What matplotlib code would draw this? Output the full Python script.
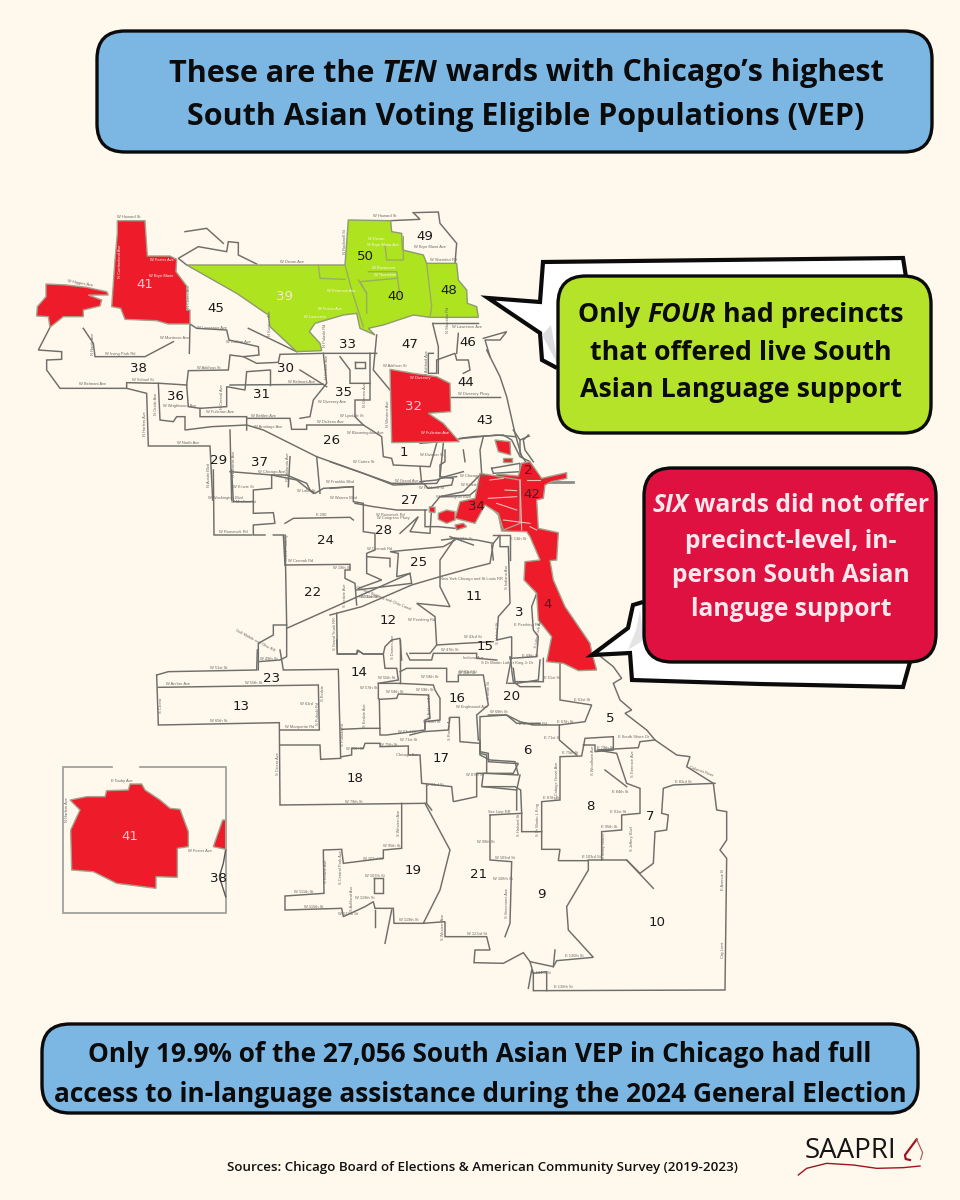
import matplotlib
matplotlib.use('Agg')
import matplotlib.pyplot as plt
from matplotlib.patches import FancyBboxPatch, Polygon

BG = '#FFF8EC'
LINE = '#6E6E6A'
FONT = 'Open Sans'

# crop origins the outlines were read from (x0, y0), crop pixels are 3x
C1 = (30, 200)
C2 = (330, 350)
C3 = (50, 650)
C4 = (400, 650)
C6 = (480, 250)
C7 = (190, 470)
C8 = (320, 640)
C9 = (420, 430)

# ---- coloured wards
ward41 = [(262,62),(345,62),(352,168),(420,168),(440,178),(438,215),(470,258),(470,330),(480,330),(480,372),
          (415,372),(380,362),(285,358),(272,325),(245,320),(255,180),(262,100)]
ward41_west = [(48,252),(110,255),(170,262),(230,275),(235,285),(175,285),(215,300),(210,318),(160,330),(160,350),
               (100,350),(60,382),(55,350),(20,348),(22,320),(48,290)]
ward_green = [(470,195),(945,195),(955,60),(1082,62),(1085,95),(1115,100),(1118,150),(1180,165),(1190,190),(1280,190),
              (1285,240),(1310,270),(1312,310),(1340,320),(1345,352),(1200,352),(1150,345),(1060,375),(1015,385),
              (1035,405),(990,385),(980,340),(940,345),(855,370),(838,395),(870,430),(875,452),(800,455),(720,380),
              (715,345),(620,280)]
green_inner = [
    [(865,195),(870,235),(945,238)],
    [(945,195),(965,270),(1000,380)],
    [(985,240),(1010,280),(1010,340)],
    [(1015,215),(1100,215),(1110,290)],
    [(1065,135),(1070,180),(1120,180),(1120,110)],
    [(1190,190),(1205,320),(1200,352)],
    [(1010,280),(990,245),(1100,235)],
]
ward32 = [(180,58),(250,70),(320,80),(360,100),(362,185),(295,190),(340,220),(388,275),(185,278)]
downtown = [(500,372),(565,378),(575,340),(600,335),(635,385),(710,368),(710,385),(665,395),(645,405),
            (640,445),(620,450),(625,535),(685,548),(680,630),(660,632),(670,690),(705,770),(780,880),(785,905),
            (800,960),(745,962),(700,940),(650,935),(665,860),(625,810),(620,730),(582,690),(585,635),(630,630),
            (600,560),(590,545),(515,543),(505,495),(480,470)]
downtown_c9 = [
    [(180,130),(300,150),(300,280),(250,300),(235,250),(195,225),(165,280),(105,265),(120,215),(165,205)],
    [(55,250),(80,240),(105,245),(105,270),(80,280),(55,268)],
    [(28,230),(45,232),(45,248),(28,246)],
    [(105,285),(130,280),(140,290),(110,300)],
    [(225,30),(270,35),(272,75),(235,65)],
    [(250,85),(275,85),(275,97),(250,97)],
]
downtown_roads = [
    [(300,150),(305,300)], [(205,205),(290,200)], [(230,220),(290,240)], [(250,270),(330,280)],
    [(330,290),(350,300)], [(320,150),(360,150)], [(210,150),(250,145)], [(255,180),(290,182)],
]
inset41 = [(60,450),(110,440),(165,440),(170,422),(235,420),(240,402),(275,402),(285,420),(330,450),(360,475),
           (390,478),(415,545),(415,590),(382,595),(382,682),(318,680),(318,715),(200,700),(130,665),(65,660),
           (62,540),(90,480)]
inset_bit = [(518,510),(527,510),(527,598),(490,590)]
inset_frame = [(185,350),(40,350),(40,790),(527,790),(527,350),(270,350)]
inset_line = [(527,600),(520,640),(508,680),(527,740)]

# ---- ward boundaries, one list per crop
lines_c1 = [
    [(1150,38),(1225,36),(1230,70),(1280,130),(1275,190)],
    [(1150,38),(1170,58),(1082,62)],
    [(470,195),(445,175),(505,140),(590,155),(595,125),(625,128),(625,165),(680,192)],
    [(465,95),(530,85),(580,130)],
    [(60,382),(25,450),(95,455),(95,478),(50,480),(50,510),(90,565),(290,565),(290,548),(390,550),(470,555),
     (475,512),(595,510),(600,465),(640,470),(680,490),(745,487),(750,463),(880,460),(1040,460)],
    [(160,385),(190,430),(195,470),(345,470),(430,425)],
    [(480,372),(478,460)],
    [(480,372),(500,385),(590,390),(597,420),(685,440),(687,465),(640,470)],
    [(655,385),(800,455)],
    [(290,565),(350,580),(355,738),(540,738),(548,900)],
    [(385,550),(390,660),(430,665),(440,650),(465,650),(465,690),(545,680),(650,675),(700,690),(860,770),(1000,820),
     (1090,855),(1220,850),(1230,835),(1280,830)],
    [(600,690),(605,900)],
    [(470,555),(475,620),(510,625),(510,650),(650,650),(650,690)],
    [(650,655),(780,655),(785,688),(830,688),(830,675),(1000,675),(1055,710),(1060,770),(1085,775),(1090,795),
     (1200,800),(1220,730)],
    [(1020,460),(1020,600),(975,600),(975,650),(1000,675)],
    [(880,460),(890,550),(850,600),(840,650),(810,655)],
    [(890,560),(810,510)],
    [(600,555),(880,553)],
    [(720,510),(650,515),(645,570),(590,560),(590,620),(510,625)],
    [(720,510),(720,555)],
    [(930,470),(960,510),(960,550),(1020,550)],
    [(975,485),(1005,485),(1005,505),(975,505),(975,485)],
    [(1040,405),(1030,510),(1080,570)],
    [(1208,370),(1225,440),(1225,520)],
    [(1210,460),(1195,460),(1195,520),(1220,520),(1220,480),(1275,460),(1280,480),(1315,480),(1320,510),(1300,520)],
    [(1285,400),(1280,460)],
    [(1262,592),(1410,592)],
    [(1345,370),(1208,370)],
    [(780,770),(775,860)],
    [(860,770),(870,880)],
    [(600,815),(725,825),(800,840),(850,880)],
]
lines_c2 = [
    [(390,265),(430,260),(520,255),(545,270),(570,320),(600,335)],
    [(340,280),(330,380),(370,385),(365,405),(295,415),(280,400),(185,400),(0,335)],
    [(270,350),(275,400)],
    [(0,415),(70,410)],
    [(75,460),(130,470),(200,480),(290,480)],
    [(210,550),(265,500),(240,545),(300,550),(305,470),(330,440),(420,435),(455,405)],
    [(375,570),(340,590),(180,605),(205,610),(200,680),(240,670),(245,700),(80,720)],
    [(335,570),(375,565),(440,570),(490,580),(510,555),(510,590),(535,590),(540,760),(505,800),(500,870),(545,860),
     (545,920),(530,1000)],
    [(375,565),(330,630),(330,710),(360,770),(260,760),(315,800),(320,885)],
    [(490,580),(480,640),(420,655),(330,680),(245,705),(95,770),(0,795)],
    [(240,910),(300,910),(320,885),(400,880),(490,875)],
    [(620,730),(605,770),(610,840),(625,860),(620,920),(540,925)],
    [(630,930),(625,990),(560,1000),(535,1000)],
]
lines_c3 = [
    [(320,75),(355,65),(620,60),(622,0)],
    [(320,75),(325,225),(688,218),(690,465),(1125,460)],
    [(325,112),(805,105),(808,240),(690,240)],
    [(690,285),(810,285),(812,328),(872,325),(865,58),(700,60),(690,0)],
    [(1055,460),(1055,595),(1000,600),(1000,625),(880,640),(875,598),(820,600),(822,730),(705,738),(705,780),(875,775),
     (880,800),(945,770),(970,755),(975,775),(1030,775),(1032,820),(1120,820),(1170,720),(1200,600),(1125,460)],
    [(972,685),(1000,685),(1000,730),(972,730),(972,685)],
    [(975,780),(975,830)],
    [(1025,780),(1005,880)],
]
lines_c4 = [
    [(70,820),(135,815),(135,860),(260,860),(270,900),(225,900),(222,938),(310,940),(370,908),(390,935),(460,950),
     (470,932),(580,922),(505,840),(500,770),(565,660),(565,632),(475,632),(480,598),(425,598),(425,455),(480,450),
     (480,320),(545,318),(555,265),(640,260),(640,300),(585,305),(585,285),(550,285)],
    [(270,495),(365,490),(365,545),(425,545)],
    [(270,495),(270,630),(335,635),(330,820),(315,860)],
    [(365,490),(362,420),(345,410),(245,410),(250,370),(340,370),(355,340),(340,340),(265,335),(265,310),(240,305),
     (240,200),(320,195),(360,215),(400,225),(478,225),(555,215),(575,165),(480,150),(480,40)],
    [(478,225),(478,270),(530,315)],
    [(340,55),(345,95),(430,95),(430,25)],
    [(330,20),(335,55)],
    [(945,400),(820,405),(790,415),(785,490),(805,495),(800,540),(765,545),(760,640),(720,670),(680,630),(565,630)],
    [(765,270),(720,275),(715,293),(590,300),(650,310),(680,400),(720,415),(720,490),(665,495),(665,540),(605,545),(605,630)],
    [(615,360),(680,410)],
    [(680,630),(760,715)],
    [(460,950),(465,900)],
    [(400,970),(440,965),(440,1022)],
    [(385,1015),(395,960)],
]
lines_c7 = [
    [(70,0),(72,195),(185,195)],
    [(125,0),(130,95),(190,95),(190,130),(250,128),(255,160),(190,165),(190,195),(225,195)],
    [(250,195),(280,195),(285,285)],
    [(285,160),(310,145),(480,142),(490,150)],
    [(285,195),(290,465),(250,465),(250,495),(205,520),(205,600)],
    [(290,465),(290,560),(270,570),(205,575)],
    [(290,475),(660,310)],
    [(285,285),(480,283),(480,300),(465,300),(465,325),(495,340),(500,405)],
    [(440,430),(442,552),(500,552),(505,542),(520,552),(580,552),(585,530),(605,510),(630,505),(635,570)],
    [(245,15),(245,55),(190,60),(190,95)],
    [(245,15),(290,15),(350,40),(360,60),(375,70),(400,55),(490,50),(490,95),(520,100),(520,185),(555,190),(555,240),
     (530,250),(530,310),(575,330),(505,355)],
    [(530,260),(600,265),(600,290)],
]
lines_c8 = [
    [(50,0),(52,42),(110,42),(112,30),(130,42),(190,42),(195,85),(230,85),(235,120),(175,130),(175,175)],
    [(240,0),(240,130)],
    [(175,130),(235,130),(340,135),(345,150),(360,175),(360,240),(315,245),(315,265)],
    [(178,178),(230,175),(235,162),(325,165),(330,235),(315,240),(315,270),(200,285),(180,285),(178,178)],
    [(65,268),(130,265),(180,265)],
    [(65,350),(95,345),(95,325),(130,325),(135,310),(180,310),(180,320),(265,318),(265,345),(300,345),(305,430),(395,440),
     (400,485),(470,470),(470,400),(500,400),(500,345),(480,340),(480,310),(420,305),(418,232),(390,232),(385,270),
     (310,275),(270,285)],
    [(240,95),(260,85),(380,85),(380,125),(415,125),(415,105),(490,105),(505,195),(470,225),(475,300)],
    [(505,225),(560,225),(590,250),(660,250)],
    [(480,300),(480,345),(510,360),(585,365),(595,405),(500,400)],
    [(490,440),(590,450),(590,510)],
    [(590,450),(600,405)],
    [(320,435),(320,490),(335,510)],
    [(575,90),(580,125),(600,140),(660,140)],
    [(260,40),(270,60),(335,60),(340,40),(470,40),(470,55),(530,60)],
]
lines_c9 = [
    [(130,60),(135,95)],
    [(190,20),(180,60),(185,130)],
    [(0,40),(60,35),(130,25),(230,15),(285,20)],
    [(280,0),(300,30),(300,70),(320,100)],
    [(325,15),(310,30),(315,60),(340,95)],
    [(215,115),(300,100),(300,125),(220,130),(215,115)],
    [(60,200),(130,185),(185,130)],
    [(0,155),(50,150),(75,140),(130,125)],
    [(60,140),(60,105),(75,95),(75,60)],
    [(15,240),(15,290),(55,290),(105,295)],
    [(90,320),(160,345)],
    [(220,315),(270,315),(270,390)],
    [(215,345),(220,390)],
]
pier_c9 = [(380,155),(460,155)]
coast_c4 = [(590,10),(640,50),(665,85),(640,100),(660,150),(695,180),(675,190),(740,240),(765,270),(830,315),(870,320),
            (860,350),(940,400),(950,480),(980,485),(980,570),(960,600),(980,625),(975,1020),(400,1022),(400,970),(390,935)]
coast_c6 = [(10,265),(80,245),(60,270),(15,270),(30,320)]
coast_c2 = [(470,0),(510,80),(530,140),(555,250),(575,320)]
harbor_c2 = [(570,270),(598,258)]

# ---- ward numbers (x, y on the 960x1200 picture)
ward_nums = ['49','50','40','48','45','33','47','46','38','30','44','36','31','35','43','26','1','29','37','27','28',
             '24','25','22','11','12','3','15','14','23','13','16','20','5','6','17','18','8','7','19','21','9','10','38']
ward_x = [425,365,396,449,216,348,410,468,138,286,466,176,262,344,485,332,404,219,259,410,383,
          325,419,313,474,388,519,485,359,272,241,457,512,610,527,441,355,590,650,413,479,541,657,218]
ward_y = [236,257,296,291,308,344,345,342,368,369,382,396,395,392,420,441,453,461,462,501,530,
          541,563,592,597,620,612,646,673,678,706,699,697,718,750,758,778,807,816,870,875,895,923,878]
red_nums = ['39','41','32','34','42','2','4','41']
red_x = [285,145,414,476,532,528,548,130]
red_y = [297,285,407,507,494,470,605,837]

# ---- street labels: text, crop x, crop y, rotation
streets_c1 = [('W Howard St',295,52,0),('W Howard St',1065,48,0),('W Devon Ave',785,185,0),('W Higgins Ave',150,250,-10),
    ('W Lawrence Ave',545,385,0),('W Montrose Ave',435,413,0),('W Irving Park Rd',270,462,0),('W Addison St',535,503,0),
    ('W Belmont Ave',188,553,0),('W School St',340,540,0),('W Belmont Ave',815,545,0),('W Fullerton Ave',570,637,0),
    ('W Diversey Ave',905,607,0),('W Dickens Ave',900,667,0),('W Armitage Ave',715,682,0),('W Belden Ave',700,648,0),
    ('W Chicago Ave',725,815,0),('W Grand Ave',1130,842,0),('W Division St',1205,765,0),('W Addison St',1095,497,0),
    ('W Diversey Pkwy',1330,583,0),('W Lawrence Ave',1310,380,0),('W Sheridan Rd',1240,180,0),('W Bryn Mawr Ave',1200,140,0),
    ('W Cullom Ave',625,425,0),('W Lyndale St',965,648,0),('W Bloomingdale Ave',1005,700,0),('W Cortez St',1000,785,0),
    ('W Wrightwood Ave',450,617,0),('W North Ave',475,730,0),('W Kinzie St',640,860,0),('W Hubbard St',1205,865,0),
    ('N Pulaski Rd',885,405,90),('N Harlem Ave',345,670,90),('N Austin Blvd',537,825,90),('N Cicero Ave',478,290,90),
    ('N Laramie Ave',612,790,90),('N Nagle Ave',190,430,90),('N Oriole Ave',378,610,90),('N Kostner Ave',720,370,90),
    ('N Western Ave',1075,640,90),('N Ashland Ave',1190,490,90),('N Damen Ave',1005,585,90),('N Sheridan Rd',1255,360,90),
    ('N Central Ave',575,590,90),('N Kedzie Ave',890,500,90),('N California Ave',775,800,90),('N Rockwell St',945,125,90)]
streets_c2 = [('W Chicago Ave',432,377,0),('W Kinzie St',425,405,0),('W Washington Blvd',370,440,0),('W Roosevelt Rd',180,495,0),
    ('W Congress Pkwy',190,505,0),('W 19th St',400,568,0),('New York Chicago and St Louis RR',425,688,0),('W Pershing Rd',275,810,0),
    ('W 47th St',360,900,0),('W 43rd St',430,862,0),('Indiana Ave',430,925,0),('S Dr Martin Luther King Jr Dr',530,940,0),
    ('W 31st St',120,740,0),('E 13th St',565,566,0),('E Pershing Rd',590,825,0),
    ('W Cermak Rd',150,598,0),('E 49th St',600,918,0),('W 55th St',410,968,0),('W 59th St',300,980,0),
    ('S Lake Park Ave',625,850,80),('S Indiana Ave',530,680,90),('S Kedzie Ave',45,735,90),
    ('S Halsted St',505,850,90),('S Damen Ave',190,890,90)]
streets_c3 = [('W Archer Ave',385,102,0),('W 55th St',612,98,0),('W 65th St',505,212,0),
    ('W Marquette Rd',748,232,0),('W 63rd',770,162,0),('W 75th St',915,297,0),('W 79th St',912,455,0),('Chicago Ave',1070,315,0),
    ('W 95th St',1025,587,0),('W 103rd St',970,628,0),('W 107th St',975,677,0),('W 111th St',762,725,0),('W 115th St',790,770,0),
    ('W 119th St',945,745,0),('W 127th St',895,792,0),('W 119th St',1075,810,0),('S Cicero Ave',683,342,90),
    ('S Central Park Ave',872,650,90),('S Pulaski Rd',878,255,90),('S Western Ave',1048,520,90),('S Cicero',332,165,90),
    ('S Kedzie Ave',828,665,90),('S Kedzie',818,130,90),('S Pulaski Rd',805,190,90),('S Ashland Ave',905,745,90),
    ('E Touhy Ave',215,392,0),('W Foster Ave',450,604,0),('N Harlem Ave',50,480,90)]
streets_c4 = [('W 63rd St',205,67,0),('W Englewood Ave',215,172,0),('W 69th St',295,187,0),('E Marquette Rd',400,222,0),
    ('E 67th St',495,217,0),('E 71st St',455,265,0),('E 75th St',510,310,0),('E 83rd St',850,395,0),('E South Shore Dr',700,260,0),
    ('E 79th St',615,295,0),('E 87th St',455,445,0),('E 103rd St',575,622,0),('E 95th St',628,532,0),('E 91st St',655,487,0),
    ('E 84th St',660,427,0),('E 130th St',522,918,0),('E 134th St',425,968,0),('E 138th St',490,1012,0),
    ('W 87th St',225,375,0),('W 99th St',258,575,0),('W 103rd St',315,625,0),('W 108th St',310,688,0),('W 123rd St',230,852,0),
    ('Sec Line RR',298,487,0),('E 61st St',545,150,0),('E 51st St',455,85,0),('E Avenue B',968,690,90),('City Limit',968,900,90),
    ('S Cottage Grove Ave',470,390,90),('S Stony Island',612,590,90),('S Halsted St',358,525,90),('S Dr Martin L King',415,510,90),
    ('S Vincennes Ave',320,760,90),('S Torrence Ave',700,340,90),('S Jeffery Blvd',695,565,90),('S Woodlawn Ave',578,330,90),
    ('S Western Ave',128,830,90),('S State St',268,120,90),('Calumet River',905,365,-20)]
streets_c7 = [('W Lake St',350,62,0),('W Franklin Blvd',450,35,0),('W Warren Blvd',460,85,0),
    ('W Madison St',160,97,0),('W Washington Blvd',105,85,0),('E 290',395,135,0),
    ('W Roosevelt Rd',130,187,0),('W Cermak Rd',332,274,0),('W 19th St',455,295,0),('W 33rd St',535,380,0),
    ('W 51st St',85,594,0),('W 49th St',235,567,0),('S Grand Trunk RR',435,490,90),('S Belt Railway',292,230,90),
    ('Gulf Mobile and Ohio RR',195,512,-28),('Chicago Sanitary and Ohio Canal',580,385,-22)]
streets_c8 = [('W 57th St',145,145,0),('W 59th St',225,155,0),('W 59th St',315,150,0),('W 71st St',265,300,0),('W 63rd St',260,277,0),
    ('W 65th St',335,245,0),('W 83rd St',345,435,0),('W 75th St',205,315,0),('W 55th St',200,113,0),('S Kedzie Ave',135,225,90),
    ('S Racine Ave',390,265,90),('S Ashland Ave',330,195,90)]
streets_red = [('W Foster Ave',395,180,0),('W Bryn Mawr',395,227,0),('N Cumberland Ave',270,185,90),('W Diversey',1170,535,0),
    ('W Fullerton Ave',1215,700,0),('W Peterson Ave',935,272,0),('W Foster Ave',900,328,0),('W Lawrence',855,352,0),
    ('W Bryn Mawr Ave',1060,135,0),('W Devon',1040,118,0),('W Rosemont',1060,205,0),('W Thorndale',1065,225,0)]

# ---- callouts and boxes
title_lines = [[('These are the ', 'normal'), ('TEN', 'italic'), (' wards with Chicago\u2019s highest', 'normal')],
               [('South Asian Voting Eligible Populations (VEP)', 'normal')]]
green_lines = [[('Only ', 'normal'), ('FOUR', 'italic'), (' had precincts', 'normal')],
               [('that offered live South', 'normal')],
               [('Asian Language support', 'normal')]]
red_lines = [[('SIX', 'italic'), (' wards did not offer', 'normal')],
             [('precinct-level, in-', 'normal')],
             [('person South Asian', 'normal')],
             [('languge support', 'normal')]]
bottom_lines = [[('Only 19.9% of the 27,056 South Asian VEP in Chicago had full', 'normal')],
                [('access to in-language assistance during the 2024 General Election', 'normal')]]
source_text = 'Sources: Chicago Board of Elections & American Community Survey (2019-2023)'

green_bubble = [(557,368),(542,360),(540,333),(488,298),(540,302),(543,262),(720,260),(903,258),(906,277)]
red_bubble = [(643,602),(633,605),(628,628),(592,655),(630,653),(632,680),(760,684),(903,687),(910,662)]


def conv(pts, origin):
    return [(origin[0] + p[0] / 3, origin[1] + p[1] / 3) for p in pts]


fig = plt.figure(figsize=(9.6, 12), dpi=100, facecolor=BG)
ax = fig.add_axes([0, 0, 1, 1])
ax.set_xlim(0, 960)
ax.set_ylim(1200, 0)
ax.axis('off')
renderer = fig.canvas.get_renderer()


def poly_line(pts, origin, color=LINE, lw=1.05, z=2):
    p = conv(pts, origin)
    ax.plot([a[0] for a in p], [a[1] for a in p], color=color, lw=lw, zorder=z, solid_joinstyle='miter')


def fill_ward(pts, origin, color, edge='#A8A08C', z=3):
    ax.add_patch(Polygon(conv(pts, origin), closed=True, facecolor=color, edgecolor=edge, lw=1.0, zorder=z))


def street_labels(items, origin, color='#6A6A66'):
    for txt, x, y, rot in items:
        px, py = conv([(x, y)], origin)[0]
        ax.text(px, py, txt, fontsize=2.9, color=color, rotation=rot, ha='center', va='center', zorder=4,
                family='Liberation Sans')


def text_width(s, size, style):
    # pad with x so spaces at the ends count
    t1 = ax.text(0, 0, 'x' + s + 'x', fontsize=size, fontstyle=style, fontweight='bold', family=FONT)
    t2 = ax.text(0, 0, 'xx', fontsize=size, fontstyle=style, fontweight='bold', family=FONT)
    w = t1.get_window_extent(renderer).width - t2.get_window_extent(renderer).width
    t1.remove()
    t2.remove()
    return w


def mixed_line(segs, cx, cy, size, color):
    widths = [text_width(s, size, st) for s, st in segs]
    x = cx - sum(widths) / 2
    for (s, st), w in zip(segs, widths):
        ax.text(x, cy, s.replace(' ', '\u00a0'), fontsize=size, fontstyle=st, fontweight='bold', family=FONT,
                color=color, ha='left', va='center_baseline', zorder=9)
        x += w


def box(x0, y0, x1, y1, color, lw=2.4, r=28, z=8):
    ax.add_patch(FancyBboxPatch((x0, y0), x1 - x0, y1 - y0, boxstyle='round,pad=0,rounding_size=%d' % r,
                                facecolor=color, edgecolor='#0B0B0B', lw=lw, zorder=z))


# map outlines
for lines, org in [(lines_c1, C1), (lines_c2, C2), (lines_c3, C3), (lines_c4, C4), (lines_c7, C7), (lines_c8, C8),
                   (lines_c9, C9)]:
    for l in lines:
        poly_line(l, org)
poly_line(coast_c4, C4)
poly_line(coast_c6, C6)
poly_line(coast_c2, C2)
poly_line(harbor_c2, C2)
poly_line(pier_c9, C9, color='#8C8C88', lw=2.0)

# coloured wards
fill_ward(ward_green, C1, '#AEE31F', edge='#8E9A70')
for l in green_inner:
    poly_line(l, C1, color='#9AAE62', lw=1.0, z=3.5)
fill_ward(ward41, C1, '#EE1C2A')
fill_ward(ward41_west, C1, '#EE1C2A')
fill_ward(ward32, C2, '#EE1C2A')
fill_ward(downtown, C2, '#EE1C2A')
for b in downtown_c9:
    fill_ward(b, C9, '#EE1C2A')
for l in downtown_roads:
    poly_line(l, C9, color='#EDBDBD', lw=0.8, z=3.5)

# inset
poly_line(inset_frame, C3, color='#9A9A96', lw=1.2)
fill_ward(inset41, C3, '#EE1C2A')
fill_ward(inset_bit, C3, '#EE1C2A')
poly_line(inset_line, C3, color='#555555', lw=1.0)

# street names
street_labels(streets_c1, C1)
street_labels(streets_c2, C2)
street_labels(streets_c3, C3)
street_labels(streets_c4, C4)
street_labels(streets_c7, C7)
street_labels(streets_c8, C8)
street_labels(streets_red, C1, color='#FFF4EE')

# ward numbers
for n, x, y in zip(ward_nums, ward_x, ward_y):
    ax.text(x, y, n, fontsize=9.6, color='#1A1A1A', ha='center', va='center', zorder=5, family='DejaVu Sans')
for i, (n, x, y) in enumerate(zip(red_nums, red_x, red_y)):
    col = '#F7E8C8' if i == 0 else '#4A1A1E'
    if i in (1, 2, 7):
        col = '#F6C8C8'
    ax.text(x, y, n, fontsize=9.6, color=col, ha='center', va='center', zorder=5, family='DejaVu Sans')

# callout bubbles
for pts in (green_bubble, red_bubble):
    ax.add_patch(Polygon(pts, closed=False, facecolor='white', edgecolor='#0B0B0B', lw=3.0, zorder=6,
                         joinstyle='miter'))
ax.add_patch(Polygon([(551,325),(558,365),(542,335)], closed=True, facecolor='#DDDDE0', edgecolor='none', zorder=6.5))
ax.add_patch(Polygon([(640,610),(644,640),(628,650),(636,630)], closed=True, facecolor='#E4E4E6', edgecolor='none', zorder=6.5))

# boxes and text
box(97, 31, 932, 152, '#7CB6E3')
for seg, cy in zip(title_lines, [70, 113]):
    mixed_line(seg, 526, cy, 22.0, '#0B0B0B')

box(558, 276, 931, 433, '#B5E32A')
for seg, cy in zip(green_lines, [312, 350, 387]):
    mixed_line(seg, 741, cy, 19.3, '#0B0B0B')

box(644, 468, 936, 662, '#DE1141')
for seg, cy in zip(red_lines, [503, 538, 572, 606]):
    mixed_line(seg, 791, cy, 17.7, '#FBE8EC')

box(42, 1024, 918, 1113, '#7CB6E3')
for seg, cy in zip(bottom_lines, [1052, 1091]):
    mixed_line(seg, 480, cy, 18.9, '#0B0B0B')

ax.text(482, 1167, source_text, fontsize=9.6, fontweight='semibold', family=FONT, color='#111111',
        ha='center', va='center', zorder=9)

# logo
ax.text(851, 1151, 'SAAPRI', fontsize=20, family='Open Sans', color='#151515', ha='center', va='center', zorder=9)
logo_swoosh = [(115,195),(140,175),(200,160),(280,165),(350,175),(430,173),(480,168)]
p = conv(logo_swoosh, (760, 1110))
ax.plot([a[0] for a in p], [a[1] for a in p], color='#A01420', lw=1.0, zorder=9)
logo_left = [(470,88),(435,135),(437,147),(450,150)]
logo_right = [(470,88),(488,128),(482,148)]
p = conv(logo_left, (760, 1110))
ax.plot([a[0] for a in p], [a[1] for a in p], color='#A01420', lw=1.6, zorder=9)
p = conv(logo_right, (760, 1110))
ax.plot([a[0] for a in p], [a[1] for a in p], color='#B06060', lw=0.9, zorder=9)

fig.savefig('out.png', dpi=100, facecolor=BG)
